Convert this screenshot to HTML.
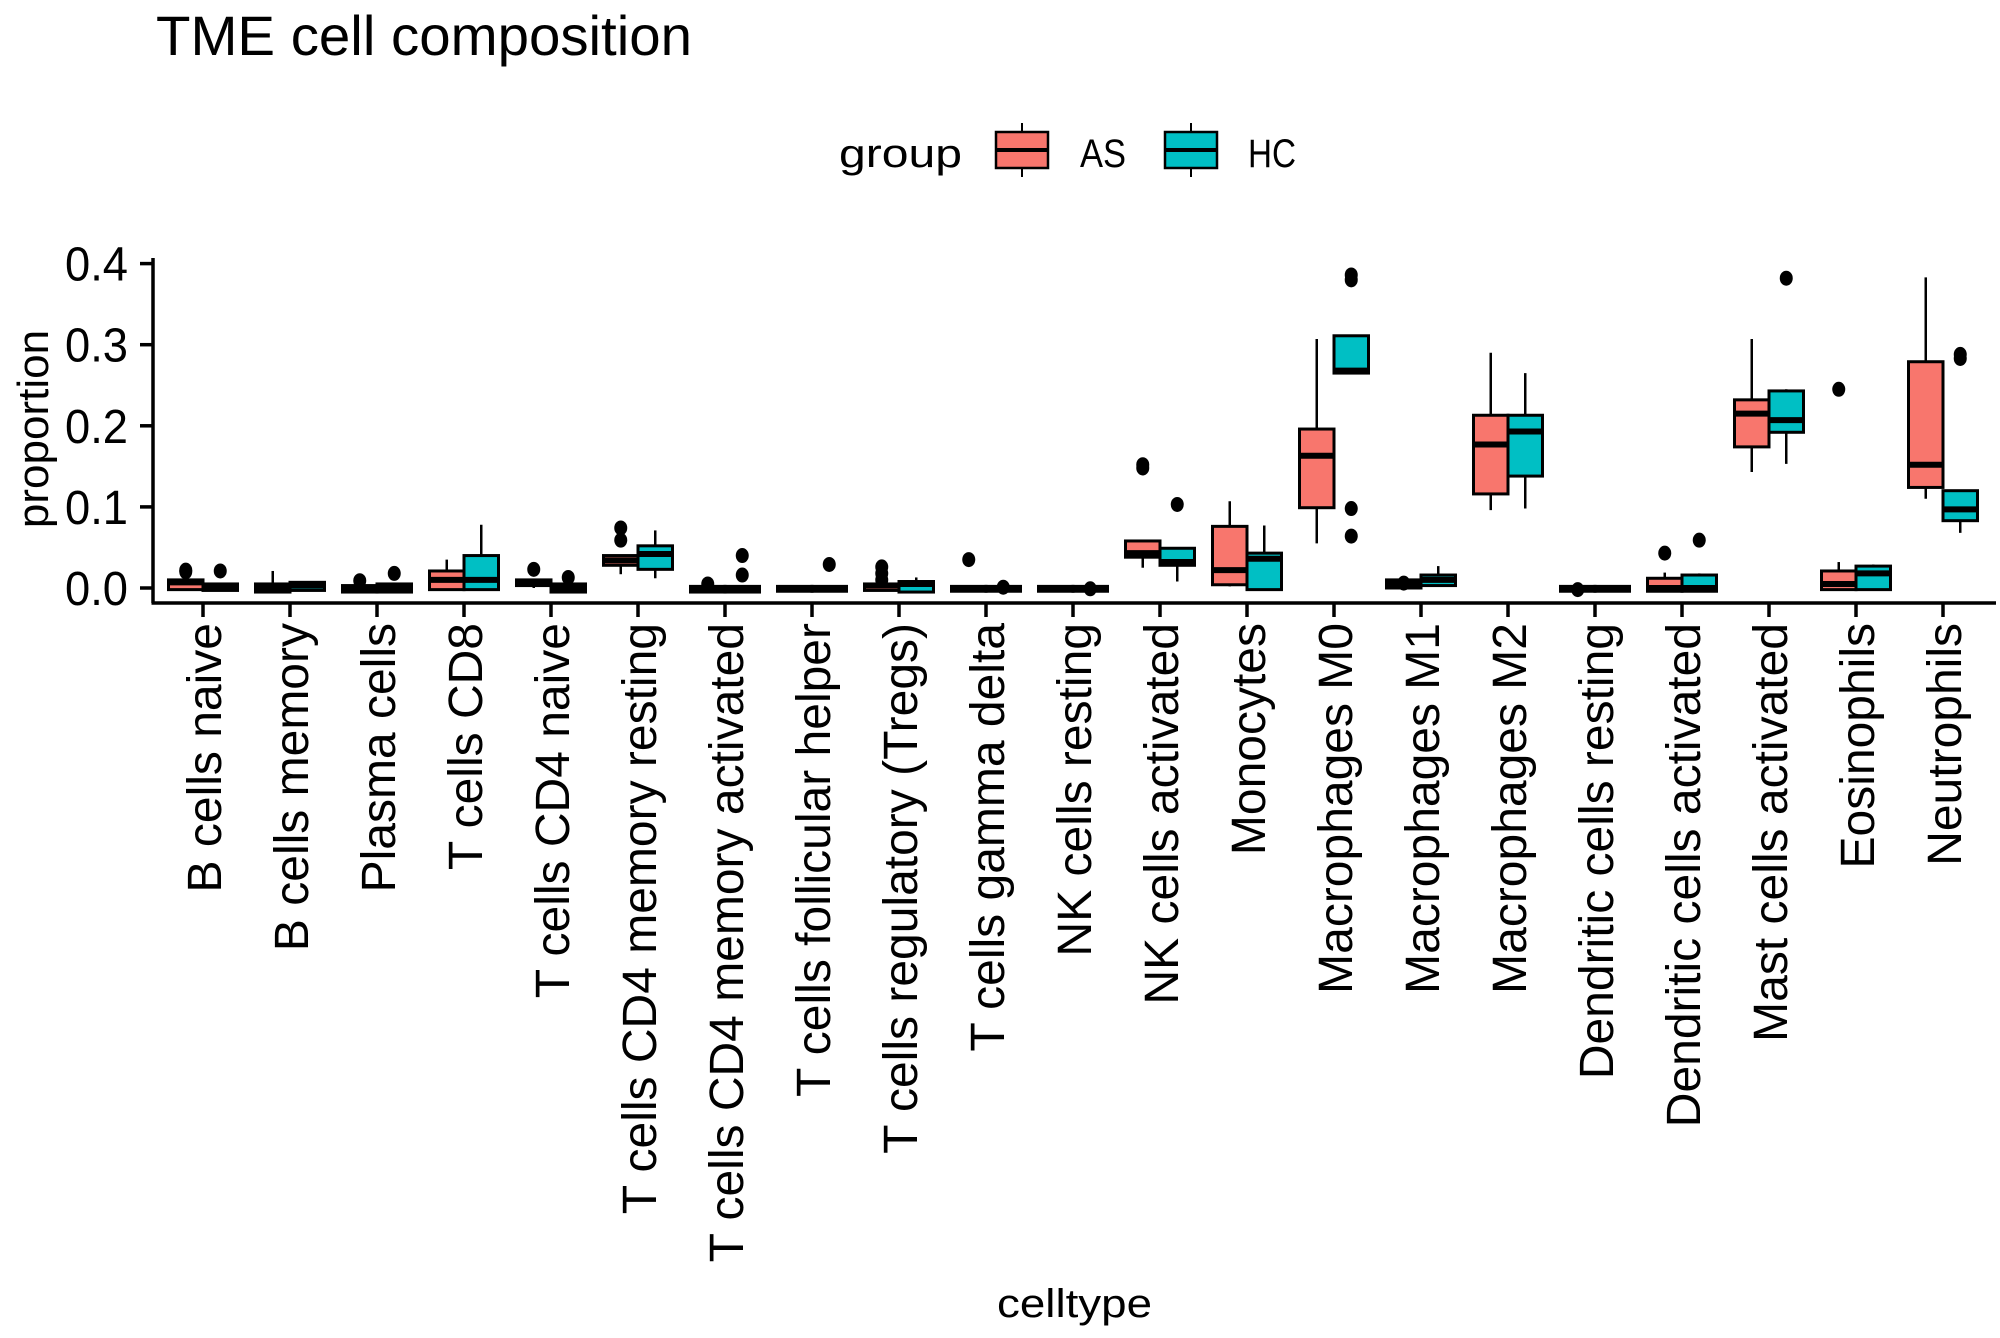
<!DOCTYPE html>
<html><head><meta charset="utf-8"><style>
html,body{margin:0;padding:0;background:#fff;}
svg{display:block;font-family:"Liberation Sans",Arial,sans-serif;}
</style></head><body>
<svg id="chart" width="2000" height="1338" viewBox="0 0 2000 1338" xmlns="http://www.w3.org/2000/svg">
<text x="156" y="55" font-size="56" textLength="536" lengthAdjust="spacingAndGlyphs">TME cell composition</text>
<g>
<text x="839" y="167" font-size="40" textLength="123" lengthAdjust="spacingAndGlyphs">group</text>
<g>
<line x1="1022" y1="123" x2="1022" y2="177" stroke="#000" stroke-width="2"/>
<rect x="996" y="132" width="52" height="36" fill="#F8766D" stroke="#000" stroke-width="2.5"/>
<line x1="996" y1="150" x2="1048" y2="150" stroke="#000" stroke-width="4"/>
<text x="1080" y="167" font-size="40" textLength="46" lengthAdjust="spacingAndGlyphs">AS</text>
</g>
<g>
<line x1="1191" y1="123" x2="1191" y2="177" stroke="#000" stroke-width="2"/>
<rect x="1165" y="132" width="52" height="36" fill="#00BFC4" stroke="#000" stroke-width="2.5"/>
<line x1="1165" y1="150" x2="1217" y2="150" stroke="#000" stroke-width="4"/>
<text x="1248" y="167" font-size="40" textLength="48" lengthAdjust="spacingAndGlyphs">HC</text>
</g>
</g>
<g id="plot"></g>
</svg>
<script>
const categories = ["B cells naive","B cells memory","Plasma cells","T cells CD8","T cells CD4 naive","T cells CD4 memory resting","T cells CD4 memory activated","T cells follicular helper","T cells regulatory (Tregs)","T cells gamma delta","NK cells resting","NK cells activated","Monocytes","Macrophages M0","Macrophages M1","Macrophages M2","Dendritic cells resting","Dendritic cells activated","Mast cells activated","Eosinophils","Neutrophils"];
const yTicks = [0.0,0.1,0.2,0.3,0.4];
const yTickLabels = ["0.0","0.1","0.2","0.3","0.4"];
// [whiskerLow, q1, median, q3, whiskerHigh]
const asStats = [
[-0.002,-0.002,0.007,0.010,0.010],[-0.005,-0.005,0.0,0.005,0.021],[-0.005,-0.005,-0.002,0.003,0.003],
[-0.002,-0.002,0.010,0.021,0.035],[0.0,0.003,0.007,0.010,0.010],[0.017,0.028,0.034,0.040,0.040],
[-0.005,-0.005,0.0,0.002,0.002],[-0.004,-0.004,0.0,0.002,0.002],[-0.003,-0.003,0.003,0.005,0.005],
[-0.004,-0.004,0.0,0.002,0.002],[-0.004,-0.004,0.0,0.002,0.002],[0.025,0.038,0.043,0.058,0.058],
[0.002,0.004,0.022,0.076,0.107],[0.055,0.099,0.163,0.196,0.307],[0.0,0.0,0.005,0.010,0.012],
[0.096,0.116,0.177,0.213,0.290],[-0.004,-0.004,0.0,0.002,0.002],[-0.004,-0.004,0.0,0.012,0.019],
[0.143,0.174,0.215,0.232,0.307],[-0.002,-0.002,0.005,0.021,0.032],[0.110,0.124,0.152,0.279,0.383]];
const hcStats = [
[-0.003,-0.003,0.0,0.005,0.005],[-0.003,-0.003,0.003,0.007,0.007],[-0.005,-0.005,0.0,0.005,0.005],
[-0.002,-0.002,0.010,0.040,0.078],[-0.005,-0.005,0.0,0.005,0.005],[0.012,0.023,0.042,0.052,0.071],
[-0.005,-0.005,0.0,0.002,0.002],[-0.004,-0.004,0.0,0.002,0.002],[-0.005,-0.005,0.005,0.008,0.013],
[-0.004,-0.004,0.0,0.002,0.002],[-0.004,-0.004,0.0,0.002,0.002],[0.008,0.028,0.032,0.049,0.049],
[-0.002,-0.002,0.036,0.043,0.077],[0.265,0.265,0.268,0.311,0.311],[0.003,0.003,0.010,0.016,0.027],
[0.098,0.138,0.193,0.213,0.265],[-0.004,-0.004,0.0,0.002,0.002],[-0.004,-0.004,0.0,0.016,0.018],
[0.153,0.192,0.207,0.243,0.245],[-0.002,-0.002,0.018,0.027,0.029],[0.068,0.083,0.097,0.120,0.120]];
const asOutliers = [[0.022,0.020],[],[0.009],[],[0.023],[0.074,0.059],[0.005],[],[0.026,0.018,0.010],[0.035],[],[0.152,0.148],[],[],[0.006],[],[-0.002],[0.043],[],[0.245],[]];
const hcOutliers = [[0.021],[],[0.018],[],[0.013],[],[0.040,0.016],[0.029],[],[0.001],[-0.001],[0.103],[],[0.386,0.380,0.098,0.064],[],[],[],[0.059],[0.382],[],[0.288,0.283]];

const NS = "http://www.w3.org/2000/svg";
const plot = document.getElementById('plot');
const X0 = 203, DX = 87, Y0 = 588, YS = 811;
const xPos = i => X0 + i * DX;
const yPos = v => Y0 - v * YS;
const BW = 34.5;
function mk(tag, attrs, parent){ const e = document.createElementNS(NS, tag); for (const k in attrs) e.setAttribute(k, attrs[k]); (parent||plot).appendChild(e); return e; }

const yAxis = mk('line',{x1:153,y1:258,x2:153,y2:603,stroke:'#000','stroke-width':3.5});


const xAxis = mk('line',{x1:151.5,y1:603,x2:1996,y2:603,stroke:'#000','stroke-width':3.5});



yTicks.forEach((v, i) => {
  const t = mk('line',{x1:140,y1:yPos(v),x2:153,y2:yPos(v),stroke:'#000','stroke-width':3.5});
  
  
  const l = mk('text',{x:128,y:yPos(v)+17,'font-size':48,'text-anchor':'end',textLength:63,lengthAdjust:'spacingAndGlyphs'});
  l.textContent = yTickLabels[i];
  
  
});

const yt = mk('text',{x:0,y:0,'font-size':44,'text-anchor':'middle',transform:'translate(48,429) rotate(-90)'});
yt.textContent = 'proportion';


const xt = mk('text',{x:997,y:1317,'font-size':40,textLength:155,lengthAdjust:'spacingAndGlyphs'});
xt.textContent = 'celltype';



function drawBox(s, outs, x0, fill, name){
  const g = mk('g',{});
  
  
  const cx = x0 + BW/2;
  mk('line',{x1:cx,y1:yPos(s[4]),x2:cx,y2:yPos(s[0]),stroke:'#000','stroke-width':2.5},g);
  mk('rect',{x:x0,y:yPos(s[3]),width:BW,height:Math.max(yPos(s[1])-yPos(s[3]),0.5),fill:fill,stroke:'#000','stroke-width':3},g);
  mk('line',{x1:x0,y1:yPos(s[2]),x2:x0+BW,y2:yPos(s[2]),stroke:'#000','stroke-width':6},g);
  outs.forEach(o => {
    const c = mk('ellipse',{cx:cx,cy:yPos(o),rx:6.5,ry:7.5,fill:'#000'},g);
    
    
  });
}

categories.forEach((c, i) => {
  const x = xPos(i);
  const t = mk('line',{x1:x,y1:603,x2:x,y2:617,stroke:'#000','stroke-width':3.5});
  
  
  drawBox(asStats[i], asOutliers[i], x - BW, '#F8766D', 'box-as');
  drawBox(hcStats[i], hcOutliers[i], x, '#00BFC4', 'box-hc');
  const l = mk('text',{x:0,y:0,'font-size':48,'text-anchor':'end',transform:'translate('+(x+18)+',623) rotate(-90)'});
  l.textContent = c;
  
  
});
</script>
</body></html>
